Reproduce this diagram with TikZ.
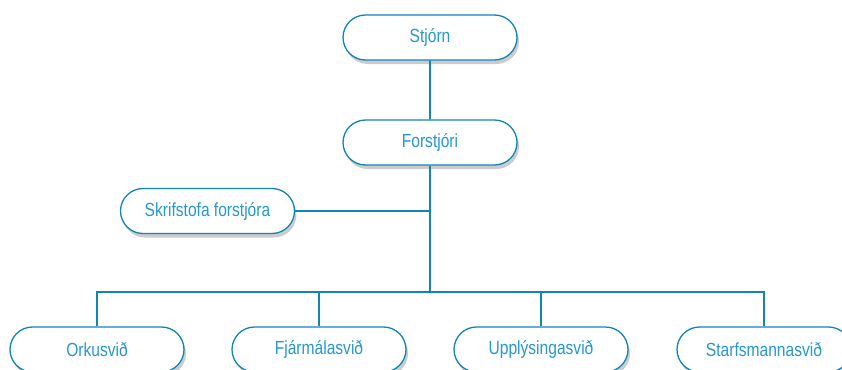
\documentclass[tikz,border=0pt]{standalone}
\usepackage{fontspec}
\setmainfont[FakeStretch=0.82]{Liberation Sans}
\usepackage{tikz}
\usetikzlibrary{shapes,shadows,calc}
\definecolor{line_blue}{RGB}{16,133,182}
\definecolor{text_blue}{RGB}{38,152,208}

\begin{document}
\begin{tikzpicture}[x=1pt,y=-1pt,
		org_node/.style={rounded rectangle,draw=line_blue,line width=1.3pt,fill=white,text=text_blue,
			minimum width=174pt,minimum height=45pt,inner sep=0pt,font=\fontsize{19}{21}\selectfont,
			drop shadow={shadow xshift=2pt,shadow yshift=-4pt,fill=black,opacity=0.2}},
		org_line/.style={line_blue,line width=1.6pt}]
	\useasboundingbox (0,0) rectangle (842,369);
	
	\node[org_node] (stjorn) at (430,37.5) {Stjórn};
	\node[org_node] (forstjori) at (430,142.5) {Forstjóri};
	\node[org_node] (skrif) at (207.5,211) {Skrifstofa forstjóra};
	
	\node[org_node] (orkus) at (97,349.5) {Orkusvið};
	\node[org_node] (fjarm) at (319,349.5) {Fjármálasvið};
	\node[org_node] (upplys) at (541,349.5) {Upplýsingasvið};
	\node[org_node] (starfs) at (764,349.5) {Starfsmannasvið};
	
	\coordinate (bus) at (430,292);
	
	\draw[org_line] (stjorn) -- (forstjori);
	\draw[org_line] (forstjori.south) -- (bus);
	\draw[org_line] (skrif.east) -- (skrif.east -| bus);
	\draw[org_line] (orkus.north) |- (bus) -| (starfs.north);
	\draw[org_line] (fjarm.north) -- (fjarm.north |- bus);
	\draw[org_line] (upplys.north) -- (upplys.north |- bus);
\end{tikzpicture}
\end{document}
